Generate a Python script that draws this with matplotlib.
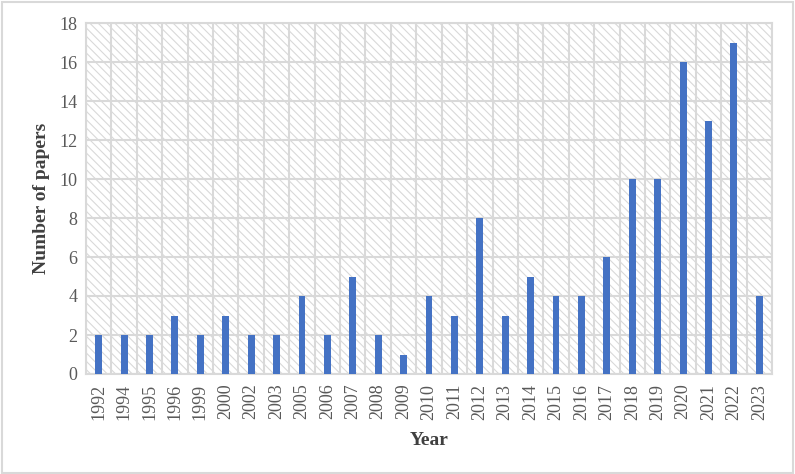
import matplotlib
matplotlib.use("Agg")
import matplotlib.pyplot as plt
import numpy as np
from matplotlib.patches import Rectangle

years = ["1992","1994","1995","1996","1999","2000","2002","2003","2005","2006",
         "2007","2008","2009","2010","2011","2012","2013","2014","2015","2016",
         "2017","2018","2019","2020","2021","2022","2023"]
papers = [2,2,2,3,2,3,2,2,4,2,5,2,1,4,3,8,3,5,4,4,6,10,10,16,13,17,4]
yticks = [0,2,4,6,8,10,12,14,16,18]

plt.rcParams['font.family'] = ['Liberation Serif', 'DejaVu Serif']
plt.rcParams['hatch.linewidth'] = 0.8
plt.rcParams['hatch.color'] = '#d9d9d9'

fig = plt.figure(figsize=(7.95, 4.74), dpi=100)
# outer border
fig.patches.append(Rectangle((0.002, 0.003), 0.995, 0.993, transform=fig.transFigure,
                             fill=False, edgecolor='#d9d9d9', linewidth=1.5))
ax = fig.add_axes([86/795, 1-374/474, (772-86)/795, (374-23)/474])

bg = Rectangle((0, 0), 1, 1, transform=ax.transAxes, facecolor='white',
               edgecolor='#d9d9d9', hatch='\\\\\\\\', linewidth=0, zorder=0)
ax.add_patch(bg)

x = np.arange(len(years))
ax.bar(x, papers, width=0.27, color='#4472c4', zorder=3)

ax.set_xlim(-0.5, len(years)-0.5)
ax.set_ylim(0, 18)
ax.set_yticks(yticks)
ax.set_xticks(x)
ax.set_xticklabels(years, rotation=90)
ax.set_xticks(np.arange(-0.5, len(years), 1), minor=True)
ax.grid(axis='y', which='major', color='#d9d9d9', linewidth=1.5, zorder=1)
ax.grid(axis='x', which='minor', color='#d9d9d9', linewidth=1.5, zorder=1)
ax.grid(axis='x', which='major', visible=False)
ax.tick_params(axis='both', which='both', length=0, labelsize=13, labelcolor='#595959')
ax.tick_params(axis='x', pad=7)
ax.tick_params(axis='y', pad=6)
for s in ['top', 'right', 'left', 'bottom']:
    ax.spines[s].set_color('#d9d9d9')
    ax.spines[s].set_linewidth(1.5)
ax.set_axisbelow(True)

ax.set_ylabel('Number of papers', fontsize=14, fontweight='bold', color='#404040', labelpad=7)
ax.set_xlabel('Year', fontsize=14, fontweight='bold', color='#404040', labelpad=9)

fig.savefig('out.png', dpi=100)
